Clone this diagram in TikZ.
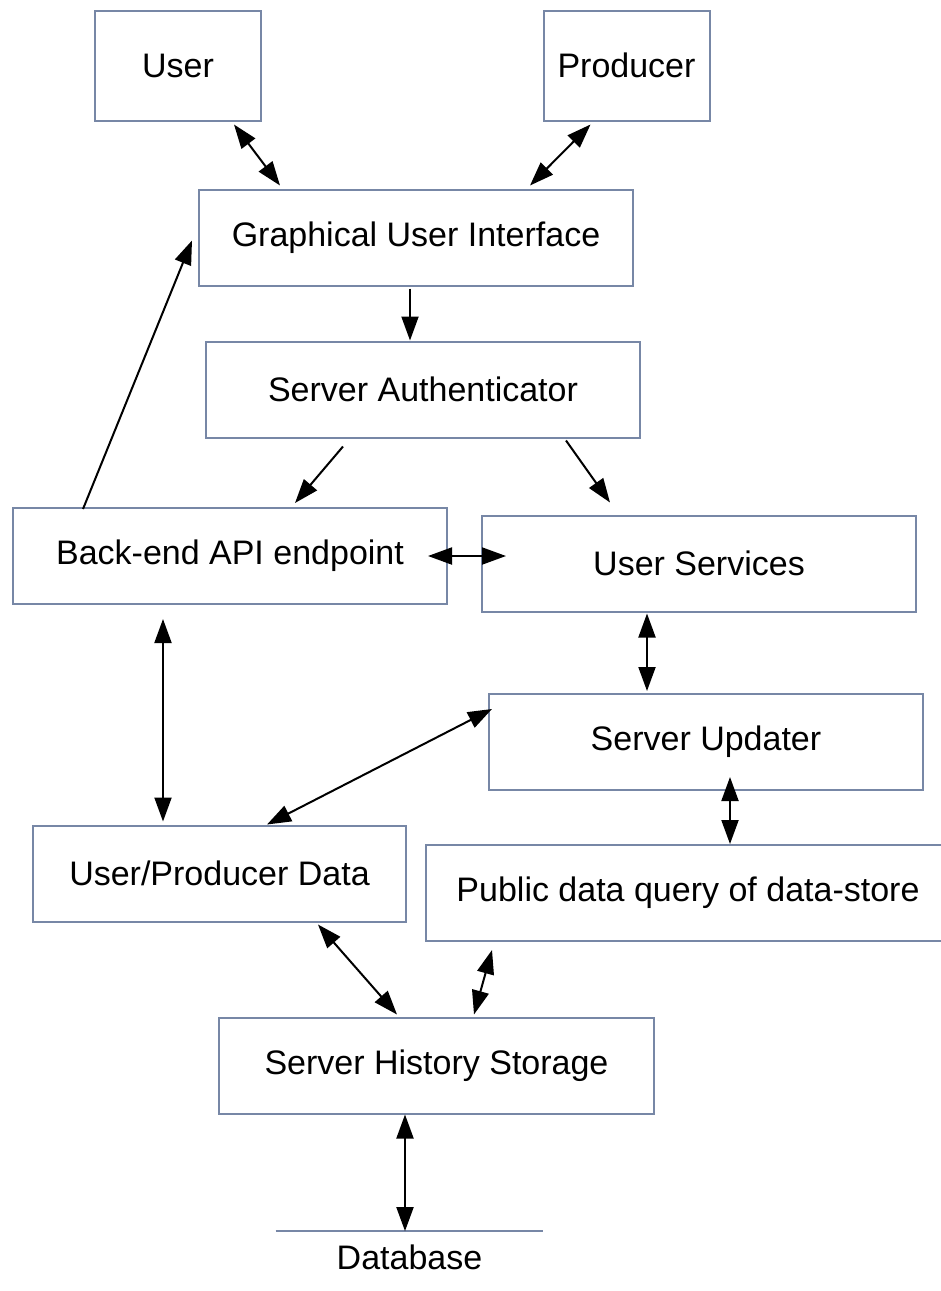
\documentclass[tikz,border=0pt]{standalone}
\usepackage{fontspec}
\setmainfont{Liberation Sans}
\usetikzlibrary{arrows.meta}

\definecolor{boxline}{HTML}{7787A6}

\begin{document}
\begin{tikzpicture}[x=0.5pt,y=-0.5pt,
    blk/.style={draw=boxline,line width=1pt,inner sep=0pt,
                minimum height=48pt,font=\fontsize{17}{20}\selectfont},
    tip/.tip={Triangle[length=12pt,width=8.5pt]},
    link/.style={line width=1pt,-tip},
    both/.style={line width=1pt,tip-tip}]
  \fill[white] (0,0) rectangle (941,1291);
  \useasboundingbox (0,0) rectangle (941,1291);

  \node[blk,minimum width=83pt,minimum height=55pt] (user) at (178,65.5) {User};
  \node[blk,minimum width=83pt,minimum height=55pt] (producer) at (626.5,65.5) {Producer};
  \node[blk,minimum width=217pt] (gui) at (416,237.5) {Graphical User Interface};
  \node[blk,minimum width=217pt] (auth) at (423,389.5) {Server Authenticator};
  \node[blk,minimum width=217pt] (backend) at (230,556) {Back-end API endpoint};
  \node[blk,minimum width=217pt] (services) at (699,563.5) {User Services};
  \node[blk,minimum width=217pt] (updater) at (706,742) {Server Updater};
  \node[blk,minimum width=186.5pt] (updata) at (219.5,873.5) {User/Producer Data};
  \node[blk,minimum width=262pt] (public) at (688,893) {Public data query of data-store};
  \node[blk,minimum width=217.5pt] (history) at (436.5,1065.5) {Server History Storage};
  \node[font=\fontsize{17}{20}\selectfont,minimum width=133.5pt,minimum height=26pt,
        inner sep=0pt] (db) at (409.5,1257.5) {Database};
  \draw[boxline,line width=1pt] (db.north west) -- (db.north east);

  \draw[both] ([xshift=28pt,yshift=-1.5pt]user.south) -- ([xshift=-68pt,yshift=1.5pt]gui.north);
  \draw[both] ([xshift=-18pt,yshift=-1.5pt]producer.south) -- ([xshift=57pt,yshift=1.5pt]gui.north);
  \draw[link] ([xshift=-3pt,yshift=-1pt]gui.south) -- ([xshift=-3pt]gui.south |- auth.north);
  \draw[link] ([xshift=-40pt,yshift=-4pt]auth.south) -- ([xshift=32.5pt,yshift=2pt]backend.north);
  \draw[link] ([xshift=71.5pt,yshift=-1pt]auth.south) -- ([xshift=-44.5pt,yshift=6pt]services.north);
  \draw[link] ([xshift=-73.5pt,yshift=-1pt]backend.north) -- ([xshift=-3pt,yshift=-1.5pt]gui.west);
  \draw[both] ([xshift=-10pt]backend.east) -- ([xshift=12.5pt]backend.east -| services.west);
  \draw[both] ([xshift=-33.5pt,yshift=-7pt]backend.south) -- ([xshift=-33.5pt,yshift=1.5pt]backend.south |- updata.north);
  \draw[both] ([xshift=-26pt,yshift=-0.5pt]services.south) -- ([xshift=-26pt,yshift=1pt]services.south |- updater.north);
  \draw[both] ([xshift=2pt,yshift=16.5pt]updater.west) -- ([xshift=23.75pt]updata.north);
  \draw[both] ([xshift=12pt,yshift=7pt]updater.south) -- ([xshift=12pt]updater.south |- public.north);
  \draw[both] ([xshift=49.25pt,yshift=-1pt]updata.south) -- ([xshift=-19.75pt,yshift=1pt]history.north);
  \draw[both] ([xshift=-98pt,yshift=-4pt]public.south) -- ([xshift=18.75pt,yshift=1pt]history.north);
  \draw[both] ([xshift=-15.75pt]history.south) -- ([xshift=-15.75pt]history.south |- db.north);
\end{tikzpicture}
\end{document}
